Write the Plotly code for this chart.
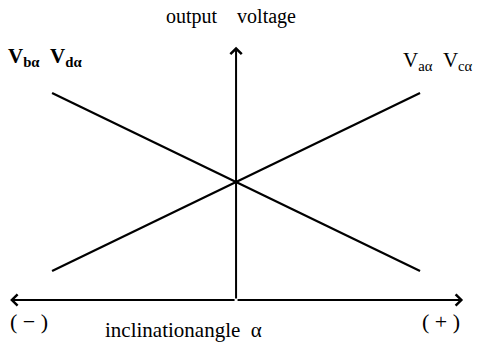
import plotly.graph_objects as go

# Data (schematic: output voltage vs inclination angle)
alpha = [-1, 1]
v_bd = [1, -1]   # V_bα, V_dα  (decreasing)
v_ac = [-1, 1]   # V_aα, V_cα  (increasing)

W, H = 478, 347
# axis ranges chosen so the figure geometry matches the reference
X_RANGE = [-1.283, 1.315]
Y_RANGE = [-1.854, 2.045]
H_AXIS_Y = -1.326
H_AXIS_L, H_AXIS_R = -1.228, 1.234
V_AXIS_TOP = 1.52

FONT = "Liberation Serif, Times New Roman, serif"

fig = go.Figure()
fig.add_trace(go.Scatter(x=alpha, y=v_bd, mode="lines",
                         line=dict(color="black", width=2.2), hoverinfo="skip"))
fig.add_trace(go.Scatter(x=alpha, y=v_ac, mode="lines",
                         line=dict(color="black", width=2.2), hoverinfo="skip"))

arrow_common = dict(xref="x", yref="y", axref="x", ayref="y", text="",
                    showarrow=True, arrowhead=4, arrowsize=1.1, arrowwidth=2,
                    arrowcolor="black", standoff=0, startstandoff=0)
# horizontal double arrow
fig.add_annotation(x=H_AXIS_L, y=H_AXIS_Y, ax=0, ay=H_AXIS_Y, **arrow_common)
fig.add_annotation(x=H_AXIS_R, y=H_AXIS_Y, ax=0, ay=H_AXIS_Y, **arrow_common)
# vertical arrow
fig.add_annotation(x=0, y=V_AXIS_TOP, ax=0, ay=H_AXIS_Y, **arrow_common)

def px(x):
    return x / W

def py(y):
    return 1 - y / H

def txt(size):
    return dict(xref="paper", yref="paper", showarrow=False,
                font=dict(family=FONT, size=size, color="black"))

fig.add_annotation(x=px(231), y=py(17), text="output    voltage",
                   xanchor="center", yanchor="middle", **txt(20))
fig.add_annotation(x=px(6), y=py(57), text="<b>V</b><sub><b>bα</b></sub>  <b>V</b><sub><b>dα</b></sub>",
                   xanchor="left", yanchor="middle", **txt(21))
fig.add_annotation(x=px(475), y=py(61), text="V<sub>aα</sub>  V<sub>cα</sub>",
                   xanchor="right", yanchor="middle", **txt(21))
fig.add_annotation(x=px(8), y=py(321), text="( − )", xanchor="left", yanchor="middle", **txt(22))
fig.add_annotation(x=px(462), y=py(321), text="( + )", xanchor="right", yanchor="middle", **txt(22))
fig.add_annotation(x=px(103), y=py(330), text="inclinationangle  α",
                   xanchor="left", yanchor="middle", **txt(21))

fig.update_layout(
    width=W, height=H, margin=dict(l=0, r=0, t=0, b=0),
    paper_bgcolor="white", plot_bgcolor="white", showlegend=False,
    xaxis=dict(range=X_RANGE, visible=False, fixedrange=True),
    yaxis=dict(range=Y_RANGE, visible=False, fixedrange=True),
)
fig.write_html("out.html", config={"displayModeBar": False},
               post_script="document.body.style.margin='0';document.body.style.overflow='hidden';")
